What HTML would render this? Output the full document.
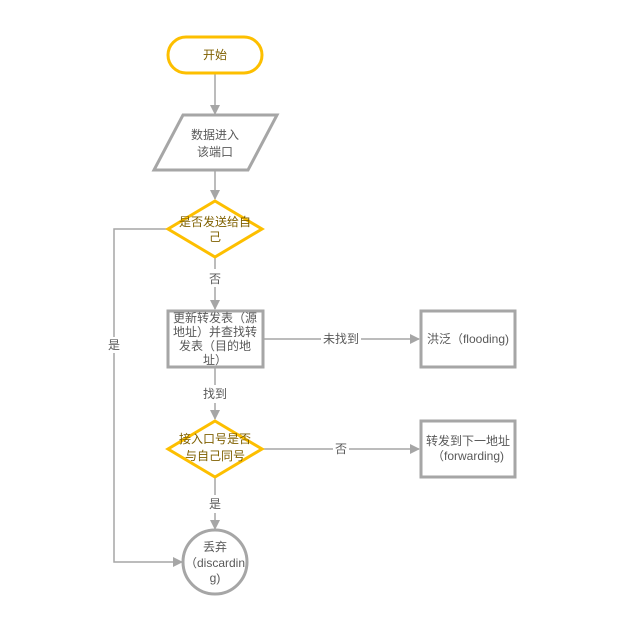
<!DOCTYPE html>
<html><head><meta charset="utf-8"><style>
html,body{margin:0;padding:0;background:#fff;}
svg{display:block;}
text{font-family:"Liberation Sans","Noto Sans CJK SC",sans-serif;font-size:12px;text-anchor:middle;}
</style></head><body>
<svg width="624" height="644" viewBox="0 0 624 644">
<defs><marker id="a" markerWidth="10" markerHeight="10" refX="9" refY="5" orient="auto" markerUnits="userSpaceOnUse"><path d="M0,0 L10,5 L0,10 z" fill="#a6a6a6"/></marker></defs>
<g stroke="#a6a6a6" stroke-width="1.5" fill="none">
<line x1="215" y1="74" x2="215" y2="114" marker-end="url(#a)"/>
<line x1="215" y1="170" x2="215" y2="199" marker-end="url(#a)"/>
<line x1="215" y1="257" x2="215" y2="269"/>
<line x1="215" y1="287" x2="215" y2="309" marker-end="url(#a)"/>
<line x1="215" y1="368" x2="215" y2="385"/>
<line x1="215" y1="403" x2="215" y2="419" marker-end="url(#a)"/>
<line x1="215" y1="477" x2="215" y2="495"/>
<line x1="215" y1="513" x2="215" y2="529" marker-end="url(#a)"/>
<line x1="263" y1="339" x2="321" y2="339"/>
<line x1="361" y1="339" x2="419" y2="339" marker-end="url(#a)"/>
<line x1="262" y1="449" x2="333" y2="449"/>
<line x1="349" y1="449" x2="419" y2="449" marker-end="url(#a)"/>
<polyline points="168,229 114,229 114,337"/>
<polyline points="114,353 114,562 182,562" marker-end="url(#a)"/>
</g>
<rect x="168" y="37" width="94" height="36" rx="18" fill="#fff" stroke="#fdbf00" stroke-width="3"/>
<text x="215" y="59" fill="#7f6000">开始</text>
<polygon points="183,115 277,115 248,170 154,170" fill="#fff" stroke="#a6a6a6" stroke-width="3"/>
<text x="215" y="139" fill="#595959">数据进入</text>
<text x="215" y="156" fill="#595959">该端口</text>
<polygon points="215,201 262,229 215,257 168,229" fill="#fff" stroke="#fdbf00" stroke-width="3"/>
<text x="215" y="226" fill="#7f6000">是否发送给自</text>
<text x="215" y="241" fill="#7f6000">己</text>
<text x="215" y="283" fill="#595959">否</text>
<rect x="168" y="311" width="95" height="56" fill="#fff" stroke="#a6a6a6" stroke-width="3"/>
<text x="215" y="322" fill="#595959">更新转发表（源</text>
<text x="215" y="336" fill="#595959">地址）并查找转</text>
<text x="215" y="350" fill="#595959">发表（目的地</text>
<text x="215" y="364" fill="#595959">址）</text>
<text x="341" y="343" fill="#595959">未找到</text>
<rect x="421" y="311" width="94" height="56" fill="#fff" stroke="#a6a6a6" stroke-width="3"/>
<text x="468" y="343" fill="#595959">洪泛（flooding)</text>
<text x="215" y="398" fill="#595959">找到</text>
<polygon points="215,421 262,449 215,477 168,449" fill="#fff" stroke="#fdbf00" stroke-width="3"/>
<text x="215" y="443" fill="#7f6000">接入口号是否</text>
<text x="215" y="460" fill="#7f6000">与自己同号</text>
<text x="341" y="453" fill="#595959">否</text>
<rect x="421" y="421" width="94" height="56" fill="#fff" stroke="#a6a6a6" stroke-width="3"/>
<text x="468" y="445" fill="#595959">转发到下一地址</text>
<text x="468" y="460" fill="#595959">（forwarding)</text>
<text x="215" y="508" fill="#595959">是</text>
<text x="114" y="349" fill="#595959">是</text>
<circle cx="215" cy="562" r="32" fill="#fff" stroke="#a6a6a6" stroke-width="3"/>
<text x="215" y="551" fill="#595959">丢弃</text>
<text x="215" y="567" fill="#595959">（discardin</text>
<text x="215" y="582" fill="#595959">g)</text>
</svg>
</body></html>
